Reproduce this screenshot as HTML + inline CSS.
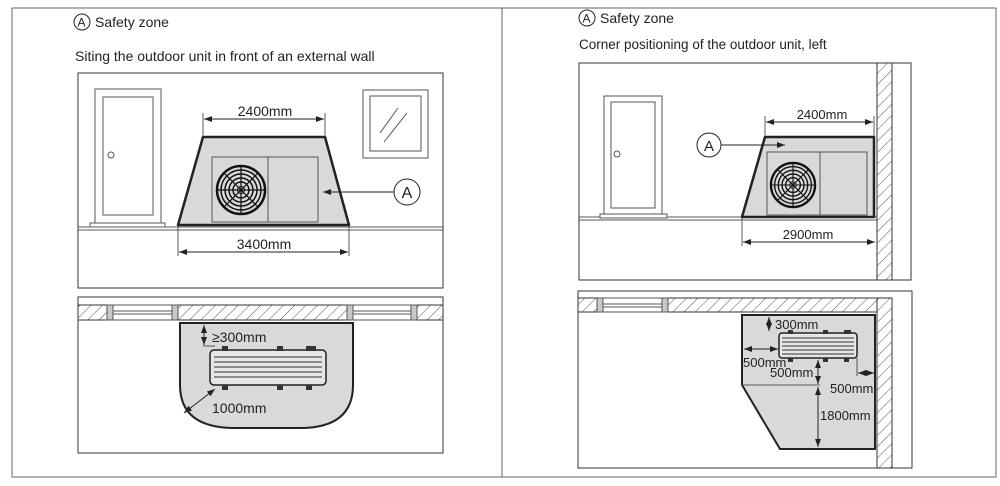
<!DOCTYPE html>
<html><head><meta charset="utf-8"><style>
html,body{margin:0;padding:0;background:#fff}
svg{display:block}
text{font-family:"Liberation Sans",Arial,sans-serif;fill:#222}
</style></head><body>
<svg width="1000" height="486" viewBox="0 0 1000 486" xmlns="http://www.w3.org/2000/svg">
<defs>
<pattern id="h" width="8" height="8" patternUnits="userSpaceOnUse" patternTransform="rotate(45)">
<rect width="8" height="8" fill="#fff"/><line x1="0" y1="0" x2="0" y2="8" stroke="#555" stroke-width="1"/></pattern>
<pattern id="hd" width="2" height="2" patternUnits="userSpaceOnUse" patternTransform="rotate(45)">
<rect width="2" height="2" fill="#ddd"/><line x1="0" y1="0" x2="0" y2="2" stroke="#777" stroke-width="0.8"/></pattern>
<marker id="a" markerWidth="8" markerHeight="6" refX="8" refY="3" orient="auto-start-reverse" markerUnits="userSpaceOnUse"><path d="M0,0 L8,3 L0,6 Z" fill="#222"/></marker>
<g id="fan"><circle r="24" fill="none" stroke="#111" stroke-width="2.5"/><circle r="20" fill="none" stroke="#111" stroke-width="1.5"/><circle r="16" fill="none" stroke="#111" stroke-width="1.5"/><circle r="12" fill="none" stroke="#111" stroke-width="1.5"/><circle r="8" fill="none" stroke="#111" stroke-width="1.5"/><circle r="3.5" fill="#fff" stroke="#111"/><path d="M0,-24V24M-24,0H24M-17,-17L17,17M-17,17L17,-17" stroke="#111" stroke-width="1.2"/></g>
</defs>
<rect x="12" y="8" width="984" height="469" fill="none" stroke="#666" stroke-width="1"/>
<line x1="502" y1="8" x2="502" y2="477" stroke="#666"/>

<circle cx="82" cy="22" r="8" fill="none" stroke="#222"/><text x="77.5" y="26.5" font-size="12">A</text>
<text x="95" y="27" font-size="14">Safety zone</text>
<text x="75" y="61" font-size="14">Siting the outdoor unit in front of an external wall</text>

<rect x="78" y="73" width="365" height="215" fill="#fff" stroke="#333" stroke-width="1"/>
<line x1="78" y1="227" x2="443" y2="227" stroke="#555"/><line x1="78" y1="230" x2="443" y2="230" stroke="#555"/>
<rect x="95" y="89" width="66" height="134" fill="#fff" stroke="#555"/>
<rect x="103" y="97" width="50" height="118" fill="#fff" stroke="#555"/>
<rect x="90" y="223" width="75" height="4" fill="#fff" stroke="#555"/>
<circle cx="111" cy="155" r="3" fill="none" stroke="#555"/>
<rect x="363" y="90" width="65" height="68" fill="#fff" stroke="#555"/>
<rect x="370" y="96" width="51" height="55" fill="#fff" stroke="#555"/>
<path d="M380,133L398,108M384,142L407,113" stroke="#555"/>
<path d="M203,137H325L349,225H178Z" fill="#d9d9d9" stroke="#222" stroke-width="2.5" stroke-linejoin="round"/>
<rect x="212" y="157" width="106" height="65" fill="#d9d9d9" stroke="#555"/>
<line x1="268" y1="157" x2="268" y2="222" stroke="#555"/>
<use href="#fan" x="241" y="190"/>
<path d="M203,113V137M325,113V137" stroke="#333" stroke-width="0.8"/>
<line x1="204" y1="119" x2="324" y2="119" stroke="#222" marker-start="url(#a)" marker-end="url(#a)"/>
<text x="265" y="116" font-size="14" text-anchor="middle">2400mm</text>
<path d="M178,226V256M349,226V256" stroke="#333" stroke-width="0.8"/>
<line x1="179" y1="252" x2="348" y2="252" stroke="#222" marker-start="url(#a)" marker-end="url(#a)"/>
<text x="264" y="249" font-size="14" text-anchor="middle">3400mm</text>
<circle cx="407" cy="192" r="13" fill="#fff" stroke="#222"/><text x="407" y="198" font-size="16" text-anchor="middle">A</text>
<line x1="394" y1="192" x2="323" y2="192" stroke="#222" marker-end="url(#a)"/>

<rect x="78" y="297" width="365" height="156" fill="#fff" stroke="#333"/>
<rect x="78" y="305" width="365" height="15" fill="url(#h)" stroke="#333"/>
<rect x="107" y="305" width="6" height="15" fill="url(#hd)" stroke="#555"/>
<rect x="113" y="305" width="59" height="15" fill="#fff" stroke="#555"/>
<path d="M113,311H172M113,314H172" stroke="#555"/>
<rect x="172" y="305" width="6" height="15" fill="url(#hd)" stroke="#555"/>
<rect x="347" y="305" width="6" height="15" fill="url(#hd)" stroke="#555"/>
<rect x="353" y="305" width="58" height="15" fill="#fff" stroke="#555"/>
<path d="M353,311H411M353,314H411" stroke="#555"/>
<rect x="411" y="305" width="6" height="15" fill="url(#hd)" stroke="#555"/>
<path d="M180,323H353V385Q353,428 300,428H235Q180,428 180,385Z" fill="#d9d9d9" stroke="#222" stroke-width="2"/>
<rect x="210" y="350" width="116" height="35" rx="4" fill="#e6e6e6" stroke="#222" stroke-width="1.5"/>
<path d="M214,357H322M214,362H322M214,367H322M214,372H322M214,377H322" stroke="#333"/>
<rect x="222" y="346" width="6" height="5" fill="#333"/><rect x="277" y="346" width="6" height="5" fill="#333"/><rect x="306" y="346" width="10" height="5" fill="#333"/>
<rect x="222" y="385" width="6" height="5" fill="#333"/><rect x="277" y="385" width="6" height="5" fill="#333"/><rect x="306" y="385" width="6" height="5" fill="#333"/>
<line x1="203" y1="346" x2="215" y2="346" stroke="#333" stroke-width="0.8"/>
<line x1="204" y1="325" x2="204" y2="345" stroke="#222" marker-start="url(#a)" marker-end="url(#a)"/>
<text x="212" y="342" font-size="14">≥300mm</text>
<line x1="184" y1="413" x2="215" y2="389" stroke="#222" marker-start="url(#a)" marker-end="url(#a)"/>
<text x="212" y="413" font-size="14">1000mm</text>

<circle cx="587" cy="18" r="8" fill="none" stroke="#222"/><text x="582.5" y="22.5" font-size="12">A</text>
<text x="600" y="23" font-size="14">Safety zone</text>
<text x="579" y="49" font-size="13.5">Corner positioning of the outdoor unit, left</text>

<rect x="579" y="63" width="332" height="217" fill="#fff" stroke="#333"/>
<line x1="579" y1="217" x2="877" y2="217" stroke="#555"/><line x1="579" y1="220" x2="877" y2="220" stroke="#555"/>
<rect x="877" y="63" width="15" height="217" fill="url(#h)" stroke="#333"/>
<rect x="604" y="96" width="58" height="119" fill="#fff" stroke="#555"/>
<rect x="611" y="102" width="44" height="106" fill="#fff" stroke="#555"/>
<rect x="600" y="214" width="67" height="4" fill="#fff" stroke="#555"/>
<circle cx="617" cy="154" r="3" fill="none" stroke="#555"/>
<path d="M765,137H874V217H742Z" fill="#d9d9d9" stroke="#222" stroke-width="2.5" stroke-linejoin="round"/>
<rect x="767" y="152" width="100" height="63" fill="#d9d9d9" stroke="#555"/>
<line x1="820" y1="152" x2="820" y2="215" stroke="#555"/>
<use href="#fan" x="793" y="185" transform="translate(793 185) scale(0.92) translate(-793 -185)"/>
<path d="M765,116V137M874,116V137" stroke="#333" stroke-width="0.8"/>
<line x1="766" y1="122" x2="873" y2="122" stroke="#222" marker-start="url(#a)" marker-end="url(#a)"/>
<text x="822" y="119" font-size="13" text-anchor="middle">2400mm</text>
<path d="M742,218V246" stroke="#333" stroke-width="0.8"/>
<line x1="743" y1="242" x2="875" y2="242" stroke="#222" marker-start="url(#a)" marker-end="url(#a)"/>
<text x="808" y="239" font-size="13" text-anchor="middle">2900mm</text>
<circle cx="709" cy="145" r="12" fill="#fff" stroke="#222"/><text x="709" y="151" font-size="15" text-anchor="middle">A</text>
<line x1="721" y1="145" x2="785" y2="145" stroke="#222" marker-end="url(#a)"/>

<rect x="578" y="291" width="334" height="177" fill="#fff" stroke="#333"/>
<rect x="578" y="298" width="314" height="14" fill="url(#h)" stroke="#333"/>
<rect x="877" y="298" width="15" height="170" fill="url(#h)" stroke="#333"/>
<rect x="597" y="298" width="6" height="14" fill="url(#hd)" stroke="#555"/>
<rect x="603" y="298" width="59" height="14" fill="#fff" stroke="#555"/>
<path d="M603,304H662M603,307H662" stroke="#555"/>
<rect x="662" y="298" width="6" height="14" fill="url(#hd)" stroke="#555"/>
<path d="M742,315H875V449H780L742,385Z" fill="#d9d9d9" stroke="#222" stroke-width="2"/>
<line x1="742" y1="385" x2="820" y2="385" stroke="#555"/>
<rect x="779" y="333" width="78" height="25" rx="3" fill="#e6e6e6" stroke="#222" stroke-width="1.5"/>
<path d="M782,338H854M782,342H854M782,346H854M782,350H854M782,354H854" stroke="#333"/>
<rect x="788" y="330" width="5" height="4" fill="#333"/><rect x="823" y="330" width="5" height="4" fill="#333"/><rect x="844" y="330" width="7" height="4" fill="#333"/>
<rect x="788" y="358" width="5" height="4" fill="#333"/><rect x="823" y="358" width="5" height="4" fill="#333"/><rect x="844" y="358" width="5" height="4" fill="#333"/>
<line x1="769" y1="317" x2="769" y2="331" stroke="#222" marker-start="url(#a)" marker-end="url(#a)"/>
<text x="775" y="329" font-size="13">300mm</text>
<line x1="744" y1="349" x2="778" y2="349" stroke="#222" marker-start="url(#a)" marker-end="url(#a)"/>
<text x="743" y="367" font-size="13">500mm</text>
<line x1="818" y1="360" x2="818" y2="384" stroke="#222" marker-start="url(#a)" marker-end="url(#a)"/>
<text x="770" y="377" font-size="13">500mm</text>
<path d="M857,358V376" stroke="#333" stroke-width="0.8"/>
<line x1="858" y1="373" x2="874" y2="373" stroke="#222" marker-start="url(#a)" marker-end="url(#a)"/>
<text x="830" y="393" font-size="13">500mm</text>
<line x1="818" y1="387" x2="818" y2="447" stroke="#222" marker-start="url(#a)" marker-end="url(#a)"/>
<text x="820" y="420" font-size="13">1800mm</text>
</svg>
</body></html>
